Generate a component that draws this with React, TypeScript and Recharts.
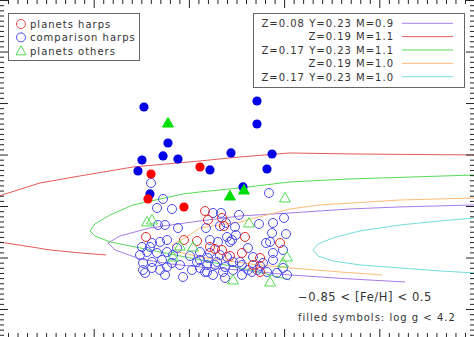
import { ComposedChart, Line, Scatter, XAxis, YAxis } from "recharts"

// evolutionary tracks (x, y in plot units)
const trackRedA = [
  { x: 0, y: 3.205 }, { x: 0.431, y: 3.458 }, { x: 0.851, y: 3.594 }, { x: 1.408, y: 3.768 },
  { x: 2.111, y: 3.885 }, { x: 2.531, y: 3.963 }, { x: 3.057, y: 4.04 }, { x: 3.687, y: 4.021 },
  { x: 5.0, y: 4.001 }
]
const trackRedB = [
  { x: 0, y: 2.312 }, { x: 0.273, y: 2.235 }, { x: 0.536, y: 2.157 }, { x: 0.851, y: 2.099 },
  { x: 1.124, y: 2.06 }
]
const trackGreen = [
  { x: 5.0, y: 3.613 }, { x: 3.687, y: 3.535 }, { x: 3.057, y: 3.477 }, { x: 2.531, y: 3.361 },
  { x: 2.111, y: 3.283 }, { x: 1.933, y: 3.244 }, { x: 1.408, y: 3.031 }, { x: 1.166, y: 2.836 },
  { x: 1.008, y: 2.662 }, { x: 0.956, y: 2.526 }, { x: 1.008, y: 2.429 }, { x: 1.166, y: 2.312 },
  { x: 1.586, y: 2.157 }, { x: 2.111, y: 1.963 }, { x: 2.637, y: 1.768 }, { x: 3.057, y: 1.574 }
]
const trackPurple = [
  { x: 5.0, y: 3.031 }, { x: 4.212, y: 2.992 }, { x: 3.687, y: 2.953 }, { x: 3.057, y: 2.875 },
  { x: 2.531, y: 2.817 }, { x: 2.111, y: 2.72 }, { x: 1.586, y: 2.584 }, { x: 1.271, y: 2.429 },
  { x: 1.145, y: 2.293 }, { x: 1.218, y: 2.157 }, { x: 1.481, y: 1.982 }, { x: 1.796, y: 1.885 },
  { x: 2.111, y: 1.827 }, { x: 2.637, y: 1.749 }, { x: 3.057, y: 1.671 }, { x: 3.687, y: 1.594 },
  { x: 4.265, y: 1.535 }
]
const trackOrange = [
  { x: 5.0, y: 3.166 }, { x: 4.212, y: 3.127 }, { x: 3.372, y: 3.031 }, { x: 3.057, y: 2.953 },
  { x: 2.531, y: 2.701 }, { x: 2.111, y: 2.584 }, { x: 1.954, y: 2.39 }, { x: 1.817, y: 2.254 },
  { x: 1.88, y: 2.118 }, { x: 2.111, y: 2.021 }, { x: 2.637, y: 1.885 }, { x: 3.057, y: 1.807 },
  { x: 3.582, y: 1.73 }, { x: 4.023, y: 1.671 }
]
const trackCyan = [
  { x: 5.0, y: 2.778 }, { x: 4.632, y: 2.72 }, { x: 4.212, y: 2.642 }, { x: 3.792, y: 2.526 },
  { x: 3.508, y: 2.39 }, { x: 3.351, y: 2.273 }, { x: 3.298, y: 2.157 }, { x: 3.351, y: 2.04 },
  { x: 3.508, y: 1.943 }, { x: 3.792, y: 1.866 }, { x: 4.212, y: 1.807 }, { x: 4.632, y: 1.749 },
  { x: 5.0, y: 1.71 }
]

// stars
const compOpen = [
  [1.597, 3.457], [1.723, 3.147], [1.66, 2.972], [1.817, 2.952], [2.248, 2.875], [2.332, 2.875],
  [2.521, 2.836], [1.67, 2.642], [1.744, 2.642], [1.88, 2.583], [2.174, 2.583], [2.384, 2.681],
  [2.479, 2.603], [2.731, 2.661], [2.878, 2.681], [2.994, 2.778], [3.015, 2.467], [2.868, 2.486],
  [2.805, 2.292], [2.878, 2.098], [2.489, 2.447], [2.447, 2.35], [2.395, 2.409], [2.836, 3.263],
  [1.502, 2.215], [1.607, 2.292], [1.691, 2.312], [1.765, 2.35], [1.481, 2.059], [1.555, 2.117],
  [1.66, 2.098], [1.765, 2.117], [1.828, 2.059], [1.513, 1.904], [1.607, 1.923], [1.712, 1.962],
  [1.817, 1.904], [1.513, 1.768], [1.607, 1.807], [1.691, 1.768], [1.765, 1.826], [1.534, 1.71],
  [1.933, 1.632], [2.027, 1.768], [2.111, 1.807], [2.185, 1.729], [2.248, 1.671], [2.111, 1.962],
  [2.195, 2.001], [2.29, 1.923], [2.374, 1.826], [2.458, 1.768], [2.374, 1.613], [2.216, 2.35],
  [2.3, 2.312], [2.111, 2.117], [2.216, 2.098], [2.08, 1.923], [2.185, 1.865], [2.395, 2.02],
  [2.321, 2.059], [2.531, 1.923], [2.426, 2.312], [2.552, 1.671], [2.269, 1.865], [2.164, 1.729],
  [2.552, 1.865], [2.615, 2.195], [2.668, 2.02], [2.773, 1.904], [2.878, 1.962], [2.983, 1.807],
  [2.71, 1.768], [2.815, 1.729], [2.92, 1.71], [3.025, 1.671], [2.658, 1.729], [2.742, 1.846],
  [2.847, 2.312], [2.983, 2.156], [2.615, 1.768], [1.586, 2.215], [1.87, 2.195], [2.353, 1.729],
  [2.458, 1.923], [2.006, 2.04], [1.744, 1.671], [1.901, 1.865], [2.321, 2.622]
]
const planetsOpen = [
  [2.164, 2.913], [2.195, 2.739], [2.342, 2.778], [1.544, 2.409], [1.943, 2.35], [2.08, 2.331],
  [2.584, 2.409], [2.952, 2.292], [2.216, 2.215], [2.269, 2.176], [2.342, 2.156], [2.426, 2.04],
  [2.742, 2.001], [2.668, 1.865], [2.742, 1.729], [2.552, 2.098], [2.363, 2.622]
]
const othersOpen = [
  [1.555, 2.7], [1.607, 2.739], [3.004, 3.166], [2.626, 2.681], [2.458, 1.574], [2.847, 1.535],
  [2.983, 1.904], [2.038, 2.215], [3.025, 2.02], [1.828, 2.02], [1.901, 2.234]
]
const compFilled = [
  [1.523, 4.933], [1.775, 4.234], [1.723, 3.982], [1.88, 3.923], [1.502, 3.904], [1.46, 3.69],
  [2.216, 3.71], [2.437, 4.04], [1.586, 3.244], [2.71, 5.049], [2.71, 4.603], [2.868, 4.02],
  [2.815, 3.729], [2.563, 3.38]
]
const planetsFilled = [[1.597, 3.632], [2.111, 3.768], [1.565, 3.147], [1.943, 2.991]]
const othersFilled = [[1.775, 4.622], [2.426, 3.205], [2.573, 3.321]]

const legendTracks = [
  { label: "Z=0.08 Y=0.23 M=0.9", color: "#a77ce6" },
  { label: "Z=0.19 M=1.1", color: "#e65a5a" },
  { label: "Z=0.17 Y=0.23 M=1.1", color: "#55dd55" },
  { label: "Z=0.19 M=1.0", color: "#ffbb77" },
  { label: "Z=0.17 Y=0.23 M=1.0", color: "#77dddd" }
]
const legendStars = [
  { label: "planets harps", color: "#e84a4a", mark: "circle" },
  { label: "comparison harps", color: "#4a4af0", mark: "circle" },
  { label: "planets others", color: "#55dd55", mark: "triangle" }
]

const xTicks = Array.from({ length: 51 }, (_, i) => +(i * 0.1).toFixed(1))
const yTicks = Array.from({ length: 66 }, (_, i) => +(0.5 + i * 0.1).toFixed(1))

const toPts = (arr: number[][]) => arr.map(([x, y]) => ({ x, y }))

const W = 478
const H = 341
const L = 1, R = W - 1, T = 1, B = H - 1
const font = "'DejaVu Sans', sans-serif"

const isMajor = (v: number) => Math.abs(v - Math.round(v)) < 1e-6

const xTick = (side: string) => (p: any) => {
  const len = isMajor(p.payload.value) ? 9 : 5
  const y0 = side === "bottom" ? B : T
  const y1 = side === "bottom" ? B - len : T + len
  return <line x1={p.x} x2={p.x} y1={y0} y2={y1} stroke="#222" strokeWidth={1} />
}
const yTick = (side: string) => (p: any) => {
  const len = isMajor(p.payload.value) ? 9 : 5
  const x0 = side === "left" ? L : R
  const x1 = side === "left" ? L + len : R - len
  return <line x1={x0} x2={x1} y1={p.y} y2={p.y} stroke="#222" strokeWidth={1} />
}

const openCircle = (color: string) => (p: any) =>
  <circle cx={p.cx} cy={p.cy} r={4.5} fill="none" stroke={color} strokeWidth={1} />
const filledCircle = (color: string) => (p: any) =>
  <circle cx={p.cx} cy={p.cy} r={4.6} fill={color} stroke="none" />
const triangle = (color: string, filled: boolean) => (p: any) => (
  <path
    d={`M${p.cx},${p.cy - 5.5} L${p.cx + 5.5},${p.cy + 4} L${p.cx - 5.5},${p.cy + 4} Z`}
    fill={filled ? color : "none"}
    stroke={color}
    strokeWidth={1}
  />
)

export default function App() {
  const tracks = [
    { d: trackPurple, c: legendTracks[0].color },
    { d: trackRedA, c: legendTracks[1].color },
    { d: trackRedB, c: legendTracks[1].color },
    { d: trackGreen, c: legendTracks[2].color },
    { d: trackOrange, c: legendTracks[3].color },
    { d: trackCyan, c: legendTracks[4].color }
  ]

  return (
    <div style={{ position: "absolute", left: 0, top: 0, width: 474, height: 337, overflow: "hidden", background: "#fff" }}>
      <div style={{ position: "absolute", left: -2, top: -2 }}>
        <ComposedChart width={W} height={H} margin={{ top: 0, right: 0, bottom: 0, left: 0 }}>
          <XAxis xAxisId="b" dataKey="x" type="number" orientation="bottom" domain={[0, 5]} allowDataOverflow
            ticks={xTicks} interval={0} height={1} axisLine={false} tickLine={false} tick={xTick("bottom")} />
          <XAxis xAxisId="t" dataKey="x" type="number" orientation="top" domain={[0, 5]} allowDataOverflow
            ticks={xTicks} interval={0} height={1} axisLine={false} tickLine={false} tick={xTick("top")} />
          <YAxis yAxisId="l" dataKey="y" type="number" orientation="left" domain={[0.447, 7.03]} allowDataOverflow
            ticks={yTicks} interval={0} width={1} axisLine={false} tickLine={false} tick={yTick("left")} />
          <YAxis yAxisId="r" dataKey="y" type="number" orientation="right" domain={[0.447, 7.03]} allowDataOverflow
            ticks={yTicks} interval={0} width={1} axisLine={false} tickLine={false} tick={yTick("right")} />

          {tracks.map((t, i) => (
            <Line key={i} data={t.d} dataKey="y" xAxisId="b" yAxisId="l" type="linear"
              stroke={t.c} strokeWidth={1} dot={false} activeDot={false} isAnimationActive={false} />
          ))}

          <Scatter data={toPts(compOpen)} xAxisId="b" yAxisId="l" shape={openCircle("#4a4af0")} isAnimationActive={false} />
          <Scatter data={toPts(planetsOpen)} xAxisId="b" yAxisId="l" shape={openCircle("#e02a2a")} isAnimationActive={false} />
          <Scatter data={toPts(othersOpen)} xAxisId="b" yAxisId="l" shape={triangle("#55dd55", false)} isAnimationActive={false} />
          <Scatter data={toPts(compFilled)} xAxisId="b" yAxisId="l" shape={filledCircle("#0000e8")} isAnimationActive={false} />
          <Scatter data={toPts(planetsFilled)} xAxisId="b" yAxisId="l" shape={filledCircle("#ff0000")} isAnimationActive={false} />
          <Scatter data={toPts(othersFilled)} xAxisId="b" yAxisId="l" shape={triangle("#00dd00", true)} isAnimationActive={false} />
        </ComposedChart>
      </div>

      <svg width={474} height={337} style={{ position: "absolute", left: 0, top: 0 }}>
        <rect x={8.5} y={13.5} width={131} height={47} fill="#fff" stroke="#666" />
        {legendStars.map((s, i) => {
          const cy = 24 + i * 13.4
          return (
            <g key={i}>
              {s.mark === "circle"
                ? <circle cx={21} cy={cy} r={4.5} fill="none" stroke={s.color} />
                : <path d={`M21,${cy - 5} L26,${cy + 4} L16,${cy + 4} Z`} fill="none" stroke={s.color} />}
              <text x={30} y={cy + 3.8} fontFamily={font} fontSize={10} letterSpacing={1} fill="#333">{s.label}</text>
            </g>
          )
        })}

        <rect x={253.5} y={13.5} width={211} height={74} fill="#fff" stroke="#666" />
        {legendTracks.map((t, i) => {
          const cy = 23.3 + i * 13.35
          return (
            <g key={i}>
              <text x={394} y={cy + 3.8} textAnchor="end" fontFamily={font} fontSize={10} letterSpacing={1} fill="#333">{t.label}</text>
              <line x1={402} x2={453} y1={cy} y2={cy} stroke={t.color} strokeWidth={1} />
            </g>
          )
        })}

        <text x={298} y={301} fontFamily={font} fontSize={11.5} letterSpacing={0.6} fill="#333">−0.85 &lt; [Fe/H] &lt; 0.5</text>
        <text x={298} y={321} fontFamily={font} fontSize={10} letterSpacing={1} fill="#333">filled symbols: log g &lt; 4.2</text>
      </svg>
    </div>
  )
}
